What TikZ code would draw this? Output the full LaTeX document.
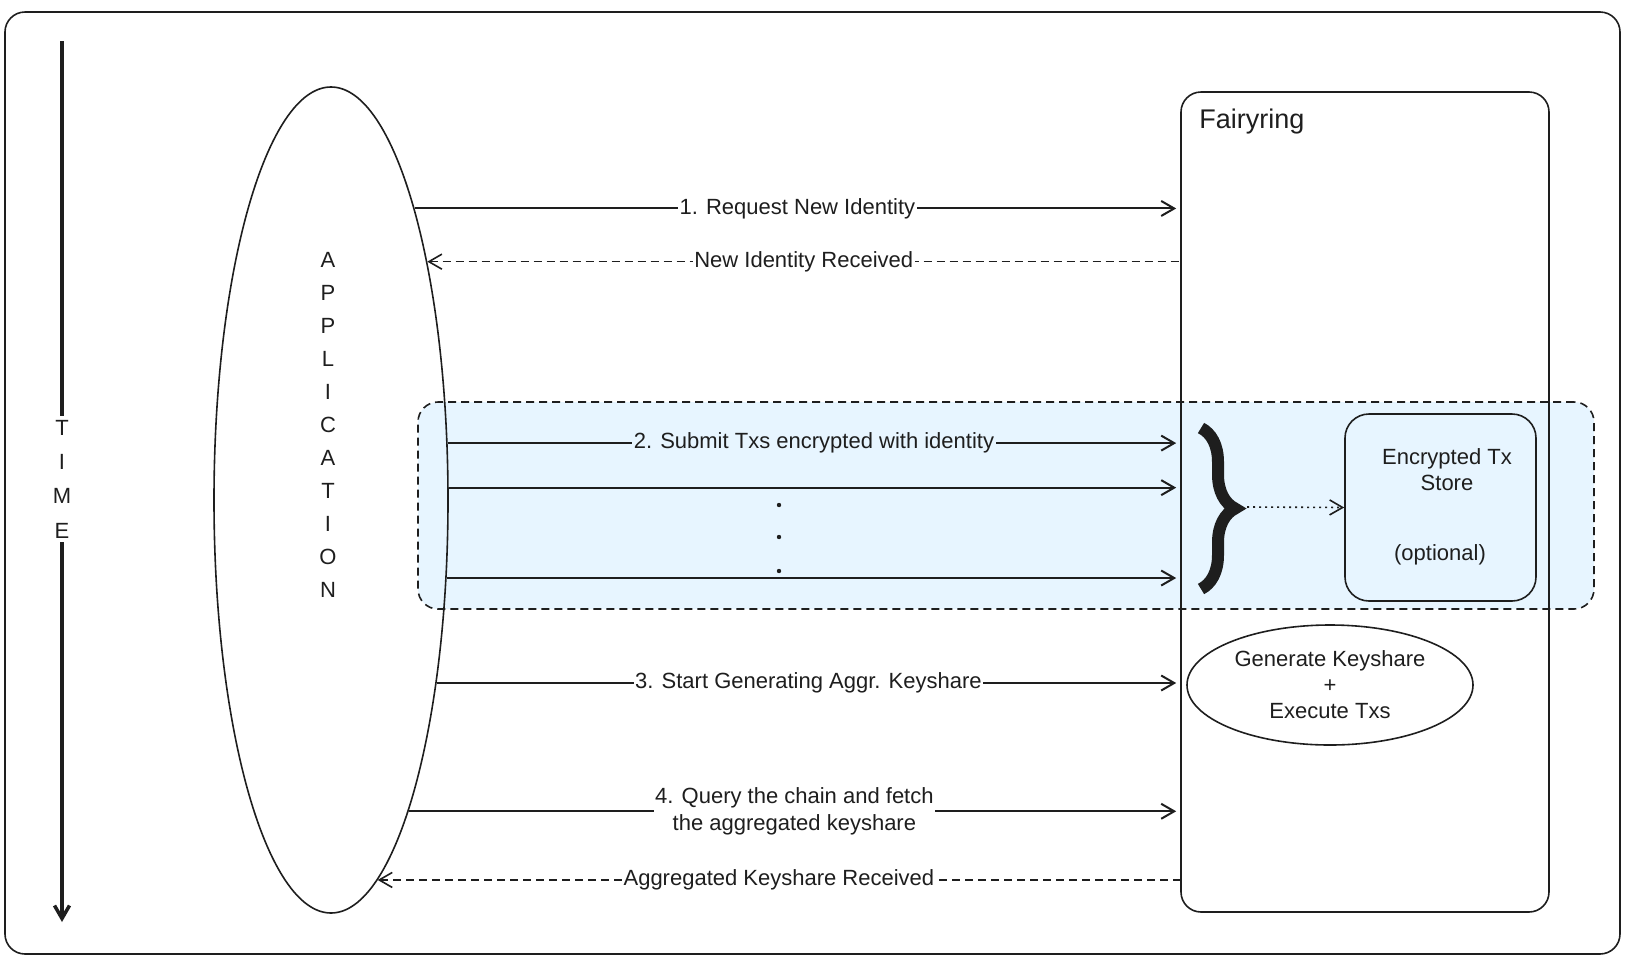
\documentclass[tikz,border=0pt]{standalone}
\usepackage{fontspec}
\setmainfont{Liberation Sans}
\usetikzlibrary{positioning, shapes, arrows.meta, decorations.pathreplacing}
\definecolor{ink}{HTML}{1E1E1E}
\definecolor{txblue}{HTML}{E7F5FF}
\newcommand\Stack[1]{%
  \fontsize{22}{#1}\selectfont}

\begin{document}
\begin{tikzpicture}[x=1pt, y=-1pt, ink,
font=\Stack{26},
>={Straight Barb[length=13pt,width=15pt]},
line/.style={draw=ink, line width=1.6pt},
box/.style={line, rectangle, rounded corners=20pt, inner sep=0pt},
msg/.style={line, line width=2pt, ->, shorten >=4pt},
reply/.style={line, dash pattern=on 8pt off 5pt, <-},
lbl/.style={fill=white, inner sep=1.5pt, text=ink},
grp/.style={box, fill=txblue, dash pattern=on 8pt off 5pt}
]
\useasboundingbox (0,0) rectangle (1628,962);
\draw[line, rounded corners=20pt] (5,12) rectangle (1620,954);

% time axis
\coordinate (t0) at (62,41);
\coordinate (t1) at (62,922);
\draw[line width=3.5pt, ->] (t0) -- (t1);
\node[fill=white, align=center, inner sep=4pt, font=\Stack{34.3}] (time) at (62,479) {T\\I\\M\\E};

% batch of txs
\node[grp, minimum width=1176pt, minimum height=207pt] (batch) at (1006,505.5) {};

% actors
\node[ellipse, line, inner sep=0pt, minimum width=234pt, minimum height=826pt] (app) at (331,500) {};
\node[align=center, font=\Stack{33}] (applbl) at (328,425) {A\\P\\P\\L\\I\\C\\A\\T\\I\\O\\N};
\node[box, minimum width=368pt, minimum height=820pt] (fr) at (1365,502) {};
\node[anchor=north west, inner sep=0pt, font=\fontsize{27}{30}\selectfont] (frlbl) at ([xshift=19pt,yshift=-18pt]fr.north west) {Fairyring};

\node[box, fill=txblue, rounded corners=24pt, minimum width=191pt, minimum height=187pt] (store) at (1440.5,507.5) {};
\node[align=center] (storelbl) at (1447,470) {Encrypted Tx\\Store};
\node (opt) at (1440,555) {(optional)};
\node[ellipse, line, inner sep=0pt, minimum width=286pt, minimum height=120pt, align=center] (gen) at (1330,685) {Generate Keyshare\\+\\Execute Txs};

% brace
\coordinate (btop) at (1201,428);
\coordinate (bbot) at (1201,589);
\coordinate (btip) at (1247,507);
\draw[decorate, decoration={brace, amplitude=34pt}, line width=12pt] (btop) -- (bbot);
\draw[line, dash pattern=on 2pt off 4pt, ->] (btip) -- (store.west);

% messages
\draw[msg] (app.74.5) -- node[lbl] {1. Request New Identity} (app.74.5 -| fr.west);
\draw[reply] (app.68.6) -- node[lbl] {New Identity Received} (app.68.6 -| fr.west);
\draw[msg] (app.26.6) -- node[lbl, fill=txblue] {2. Submit Txs encrypted with identity} (app.26.6 -| fr.west);
\draw[msg] (app.6.8) -- (app.6.8 -| fr.west);
\draw[msg] (app.-34.2) -- (app.-34.2 -| fr.west);
\foreach \y in {505,537,571}
  \fill (779,\y) circle (2.2pt);
\draw[msg] (app.-60.4) -- node[lbl] {3. Start Generating Aggr. Keyshare} (app.-60.4 -| fr.west);
\draw[msg] (app.-76.5) -- node[lbl, align=center, font=\Stack{27}] {4. Query the chain and fetch\\the aggregated keyshare} (app.-76.5 -| fr.west);
\draw[reply] (app.-83.5) -- node[lbl] {Aggregated Keyshare Received} (app.-83.5 -| fr.west);
\end{tikzpicture}
\end{document}
